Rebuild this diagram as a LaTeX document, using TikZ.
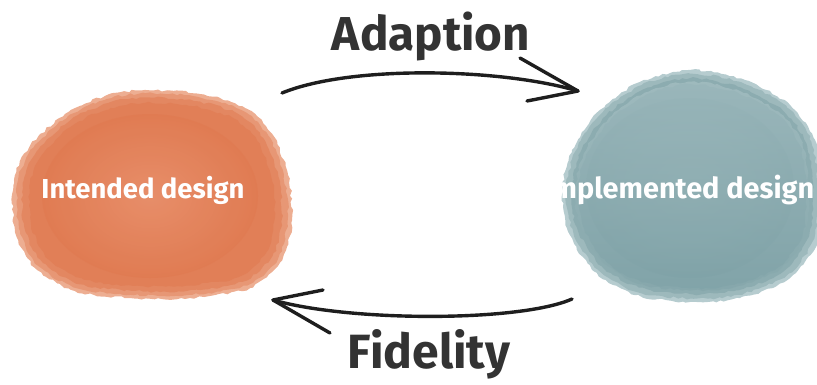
\documentclass[tikz,border=0pt]{standalone}
\usepackage{fontspec}
\setmainfont{Fira Sans}
\usepackage{graphicx}
\usetikzlibrary{decorations.pathmorphing}
\definecolor{orbase}{HTML}{E07B52}
\definecolor{orlight}{HTML}{EDAE92}
\definecolor{orcenter}{HTML}{E9916D}
\definecolor{tebase}{HTML}{7FA2A7}
\definecolor{telight}{HTML}{B6CCCF}
\definecolor{tecenter}{HTML}{88A9AD}
\definecolor{ink}{HTML}{1E1E1E}
\definecolor{labelink}{HTML}{333333}
\tikzset{
  rough/.style={decorate, decoration={random steps, segment length=4pt, amplitude=1.2pt}},
  arrowline/.style={draw=ink, line width=3.4pt, line cap=round, line join=round},
  bigtitle/.style={text=labelink, inner sep=0pt, font=\bfseries},
  blobtext/.style={text=white, inner sep=0pt, font=\bfseries},
}
\def\orpts{(-5,-106) (50,-102) (95,-88) (122,-62) (138,-21) (142,24) (132,64) (100,92) (40,102) (-20,102) (-75,95) (-115,72) (-135,34) (-136,-16) (-120,-50) (-85,-82) (-45,-100)}
\def\tepts{(0,-118) (55,-108) (100,-83) (125,-48) (132,2) (128,52) (100,90) (50,110) (0,114) (-55,107) (-95,84) (-120,47) (-128,7) (-118,-38) (-90,-78) (-50,-106)}
\begin{document}
\begin{tikzpicture}[x=1pt,y=-1pt]
\pgfmathsetseed{7}
\useasboundingbox (0,0) rectangle (817,384);
% orange blob
\begin{scope}[shift={(150,196)}]
  \fill[orlight, rough] plot[smooth cycle] coordinates {\orpts};
  \foreach \s/\o in {0.97/0.45,0.93/0.55,0.88/0.65}{
    \fill[orbase, opacity=\o, rough, scale=\s] plot[smooth cycle] coordinates {\orpts};
  }
  \shade[inner color=orcenter, outer color=orbase, opacity=0.85] (0,0) ellipse [x radius=108, y radius=82];
\end{scope}
\coordinate (blobA) at (150,196);
% teal blob
\begin{scope}[shift={(690,188)}]
  \fill[telight, rough] plot[smooth cycle] coordinates {\tepts};
  \foreach \s/\o in {0.97/0.45,0.93/0.55,0.88/0.65}{
    \fill[tebase, opacity=\o, rough, scale=\s] plot[smooth cycle] coordinates {\tepts};
  }
  \shade[inner color=tecenter, outer color=tebase, opacity=0.8] (0,0) ellipse [x radius=104, y radius=90];
  \shade[top color=telight, bottom color=tebase, opacity=0.45, rough, scale=0.9] plot[smooth cycle] coordinates {\tepts};
\end{scope}
\coordinate (blobB) at (690,188);
% blob labels
\node[blobtext, anchor=base] (intended) at (143,198) {\resizebox{203pt}{!}{Intended design}};
\node[blobtext, anchor=base west] (implemented) at (544,198) {\resizebox{270pt}{!}{Implemented design}};
% top arrow (Adaption)
\coordinate (a1s) at (282,93);
\coordinate (a1e) at (578,91);
\coordinate (a1u) at (520,58);
\coordinate (a1d) at (527,101);
\draw[arrowline] (a1s) .. controls (350,65) and (500,68) .. (a1e);
\draw[arrowline] (a1u) -- (a1e) -- (a1d);
% bottom arrow (Fidelity)
\coordinate (a2s) at (572,299);
\coordinate (a2e) at (273,300);
\coordinate (a2u) at (323,290);
\coordinate (a2d) at (330,333);
\draw[arrowline] (a2s) .. controls (520,322) and (350,322) .. (a2e);
\draw[arrowline] (a2u) -- (a2e) -- (a2d);
% titles
\node[bigtitle, anchor=base] (adaption) at (431,50) {\resizebox{198pt}{!}{Adaption}};
\node[bigtitle, anchor=base] (fidelity) at (429,368) {\resizebox{162pt}{!}{Fidelity}};
\end{tikzpicture}
\end{document}
